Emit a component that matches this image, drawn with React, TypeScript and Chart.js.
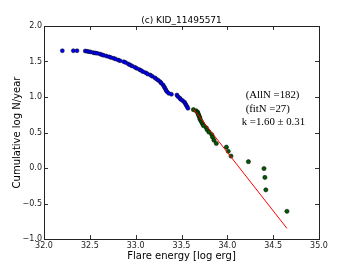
import React, { useEffect, useRef } from "react";
import { Chart, registerables } from "chart.js";

Chart.register(...registerables);

const chartTitle = "(c) KID_11495571";
const xLabel = "Flare energy [log erg]";
const yLabel = "Cumulative log N/year";

const xMin = 32;
const xMax = 35;
const yMin = -1;
const yMax = 2;
const tickStep = 0.5;

// All flares (outside the fit range)
const blueX = [32.20, 32.32, 32.36, 32.45, 32.47, 32.49, 32.51, 32.54, 32.56, 32.58, 32.61, 32.63, 32.65, 32.68, 32.71, 32.73, 32.76, 32.78, 32.81, 32.83, 32.87, 32.89, 32.92, 32.94, 32.96, 32.99, 33.01, 33.04, 33.06, 33.08, 33.11, 33.13, 33.16, 33.18, 33.21, 33.23, 33.25, 33.27, 33.28, 33.30, 33.31, 33.32, 33.33, 33.34, 33.36, 33.39, 33.45, 33.46, 33.48, 33.49, 33.51, 33.53, 33.54, 33.55, 33.56, 33.57];
const blueY = [1.652, 1.652, 1.652, 1.648, 1.644, 1.638, 1.634, 1.624, 1.620, 1.615, 1.606, 1.596, 1.587, 1.577, 1.566, 1.556, 1.545, 1.535, 1.521, 1.510, 1.497, 1.486, 1.465, 1.451, 1.437, 1.420, 1.404, 1.387, 1.373, 1.356, 1.341, 1.324, 1.310, 1.292, 1.270, 1.249, 1.232, 1.211, 1.193, 1.169, 1.145, 1.123, 1.099, 1.077, 1.052, 1.038, 1.028, 1.007, 0.986, 0.968, 0.951, 0.930, 0.911, 0.887, 0.866, 0.841];

// Flares in the fit range
const greenX = [33.63, 33.66, 33.675, 33.68, 33.685, 33.69, 33.70, 33.70, 33.71, 33.72, 33.73, 33.74, 33.77, 33.78, 33.80, 33.83, 33.84, 33.855, 33.88, 33.99, 34.01, 34.04, 34.23, 34.40, 34.41, 34.42, 34.65];
const greenY = [0.822, 0.805, 0.788, 0.771, 0.752, 0.733, 0.713, 0.691, 0.669, 0.646, 0.621, 0.595, 0.566, 0.537, 0.504, 0.470, 0.432, 0.390, 0.345, 0.294, 0.235, 0.168, 0.089, -0.008, -0.133, -0.308, -0.610];

// Power-law fit line
const fitX = [33.63, 34.65];
const fitY = [0.83, -0.85];

// Annotation text
const noteText = ["(AllN =182)", "(fitN =27)", "k =1.60 \u00b1 0.31"];
const noteX = [34.20, 34.20, 34.157];
const noteY = [1.028, 0.831, 0.644];

const fmt = (v: number) => {
  const s = Math.abs(v).toFixed(1);
  return v < -1e-9 ? "\u2212" + s : s;
};

const framePlugin = {
  id: "framePlugin",
  afterDraw(chart: any) {
    const { ctx, chartArea } = chart;
    const { left, right, top, bottom } = chartArea;
    const xs = chart.scales.x;
    const ys = chart.scales.y;
    ctx.save();
    ctx.strokeStyle = "#333";
    ctx.lineWidth = 1;
    const tl = 4;
    ctx.beginPath();
    xs.ticks.forEach((t: any) => {
      const p = Math.round(xs.getPixelForValue(t.value)) + 0.5;
      ctx.moveTo(p, bottom);
      ctx.lineTo(p, bottom - tl);
      ctx.moveTo(p, top);
      ctx.lineTo(p, top + tl);
    });
    ys.ticks.forEach((t: any) => {
      const p = Math.round(ys.getPixelForValue(t.value)) + 0.5;
      ctx.moveTo(left, p);
      ctx.lineTo(left + tl, p);
      ctx.moveTo(right, p);
      ctx.lineTo(right - tl, p);
    });
    ctx.stroke();
    ctx.strokeStyle = "#222";
    ctx.lineWidth = 1;
    ctx.strokeRect(Math.round(left) + 0.5, Math.round(top) + 0.5, Math.round(right - left), Math.round(bottom - top));
    ctx.fillStyle = "#000";
    ctx.font = "9px 'DejaVu Sans'";
    ctx.textAlign = "center";
    ctx.textBaseline = "middle";
    ctx.fillText(chartTitle, (left + right) / 2, top - 5);
    ctx.font = "10.8px 'Liberation Serif'";
    ctx.textAlign = "left";
    noteText.forEach((t, i) => {
      ctx.fillText(t, xs.getPixelForValue(noteX[i]), ys.getPixelForValue(noteY[i]));
    });
    ctx.restore();
  },
};

export default function App() {
  const ref = useRef<HTMLCanvasElement | null>(null);
  useEffect(() => {
    if (!ref.current) return;
    const tickFont = { family: "DejaVu Sans", size: 8 };
    const chart = new Chart(ref.current, {
      type: "scatter",
      data: {
        datasets: [
          {
            label: "fit",
            data: fitX.map((x, i) => ({ x, y: fitY[i] })),
            showLine: true,
            borderColor: "#ff0000",
            borderWidth: 1,
            pointRadius: 0,
            fill: false,
            order: 0,
          },
          {
            label: "fit range",
            data: greenX.map((x, i) => ({ x, y: greenY[i] })),
            backgroundColor: "#005a00",
            borderColor: "#000",
            borderWidth: 0.5,
            pointRadius: 2.1,
            order: 1,
          },
          {
            label: "all",
            data: blueX.map((x, i) => ({ x, y: blueY[i] })),
            backgroundColor: "#0000ff",
            borderColor: "#000",
            borderWidth: 0.5,
            pointRadius: 2.0,
            order: 2,
          },
        ],
      },
      options: {
        responsive: false,
        animation: false,
        layout: { padding: { left: 0, top: 26, right: 35, bottom: 0 } },
        plugins: {
          legend: { display: false },
          tooltip: { enabled: false },
          title: { display: false },
        },
        scales: {
          x: {
            type: "linear",
            min: xMin,
            max: xMax,
            ticks: {
              stepSize: tickStep,
              callback: (v: any) => fmt(Number(v)),
              font: tickFont,
              color: "#222",
              padding: 2,
              maxRotation: 0,
              autoSkip: false,
            },
            grid: { display: false, drawTicks: false },
            border: { display: false },
            title: {
              display: true,
              text: xLabel,
              font: { family: "DejaVu Sans", size: 10 },
              color: "#000",
              padding: { top: 0, bottom: 4 },
            },
            afterFit: (s: any) => {
              s.height = 27;
            },
          },
          y: {
            type: "linear",
            min: yMin,
            max: yMax,
            ticks: {
              stepSize: tickStep,
              callback: (v: any) => fmt(Number(v)),
              font: tickFont,
              color: "#222",
              padding: 2,
              autoSkip: false,
            },
            grid: { display: false, drawTicks: false },
            border: { display: false },
            title: {
              display: true,
              text: yLabel,
              font: { family: "DejaVu Sans", size: 10 },
              color: "#000",
              padding: { top: 11.5, bottom: 0 },
            },
            afterFit: (s: any) => {
              s.width = 44;
            },
          },
        },
      } as any,
      plugins: [framePlugin],
    });
    return () => chart.destroy();
  }, []);
  return (
    <div style={{ position: "fixed", left: 0, top: 0, width: 354, height: 266, background: "#fff" }}>
      <canvas ref={ref} width={354} height={266} style={{ display: "block" }} />
    </div>
  );
}
